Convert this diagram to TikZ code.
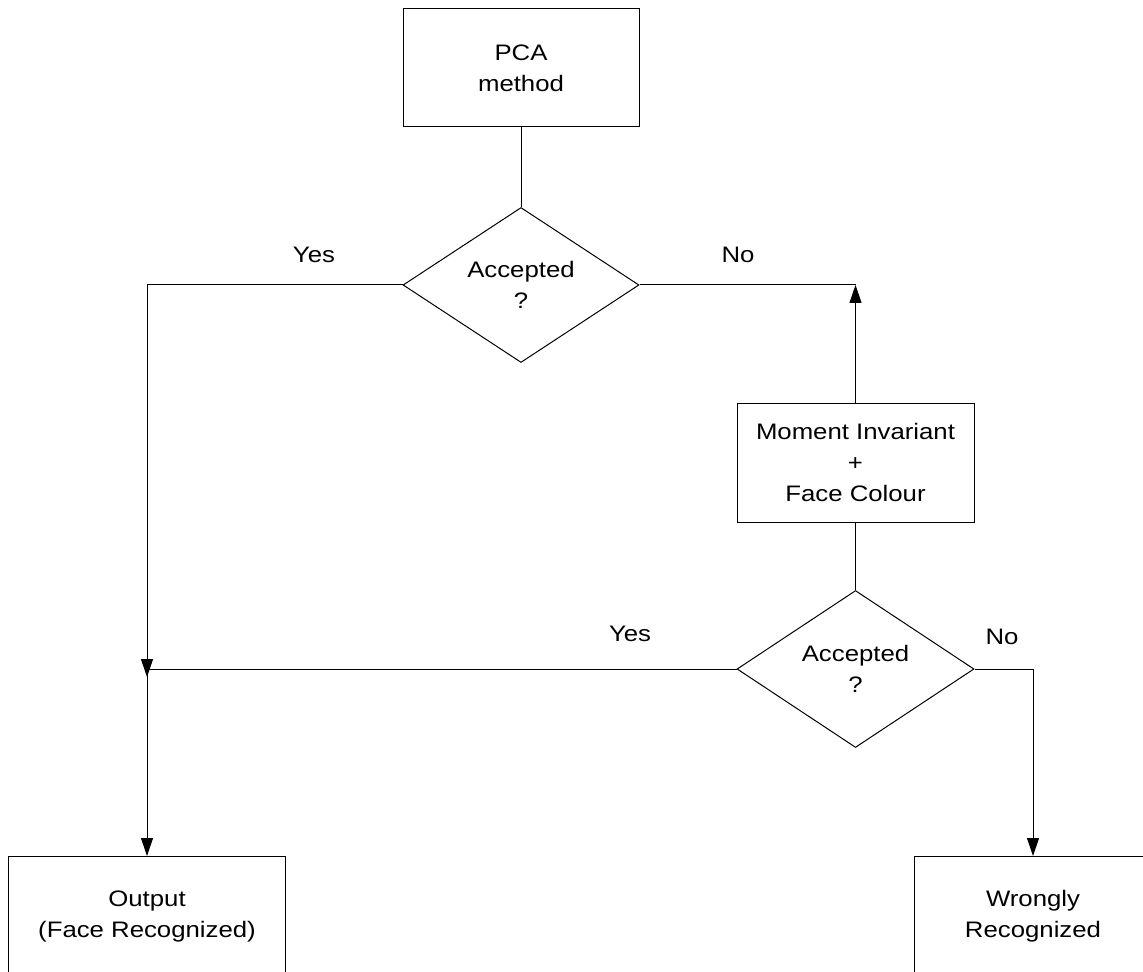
\documentclass[tikz,border=0pt]{standalone}
\usepackage{fontspec}
\setmainfont{Liberation Sans}[FakeStretch=1.15]
\usetikzlibrary{shapes.geometric,arrows.meta}

\tikzset{
  box/.style={draw, rectangle, align=center, inner sep=0pt},
  decision/.style={draw, diamond, align=center, aspect=1.5, inner sep=0pt},
  answer/.style={inner sep=0pt}
}

\begin{document}
\begin{tikzpicture}[x=0.5pt, y=-0.5pt, line width=0.5pt,
    every node/.style={font=\fontsize{11.2pt}{15.5pt}\selectfont},
    >={Triangle[length=9pt,width=6pt]}]
        \useasboundingbox (0,0) rectangle (1143,972);

        \node[box, minimum width=118pt, minimum height=59pt] (1) at (521,68) {PCA\\method};
        \node[decision, minimum width=118pt, minimum height=77.5pt] (2) at (521,285) {Accepted\\?};
        \node[box, minimum width=118.5pt, minimum height=59.5pt] (3) at (855.5,462.5) {Moment Invariant\\+\\Face Colour};
        \node[decision, minimum width=118.5pt, minimum height=78.5pt] (4) at (855.5,669) {Accepted\\?};
        \node[box, anchor=north, minimum width=138.5pt, minimum height=60pt] (5) at (147,856) {Output\\(Face Recognized)};
        \node[box, anchor=north, minimum width=119pt, minimum height=60pt] (6) at (1033,856) {Wrongly\\Recognized};

        \node[answer] (y1) at (314,255) {Yes};
        \node[answer] (n1) at (738,255) {No};
        \node[answer] (y2) at (630,634) {Yes};
        \node[answer] (n2) at (1002,637) {No};

        \coordinate (c1) at (147,677);
        \coordinate (c2) at (855.5,285);
        \coordinate (c3) at (147,669);

        \draw (1) -- (2);
        \draw[->] (2.west) -| (c1);
        \draw (2.east) -- (c2);
        \draw[->] (3) -- (c2);
        \draw (3) -- (4);
        \draw (4.west) -- (c3);
        \draw[->] (c3) -- (5);
        \draw[->] (4.east) -| (6);
      \end{tikzpicture}
\end{document}
